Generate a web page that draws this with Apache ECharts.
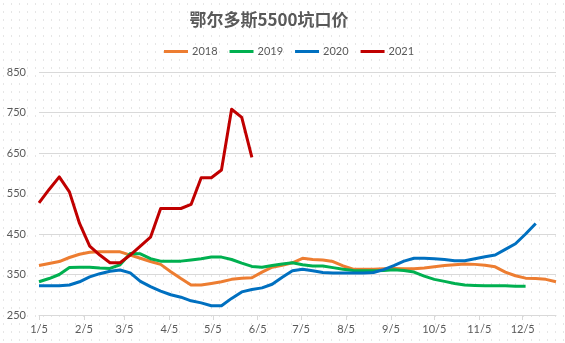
<!DOCTYPE html>
<html>
<head>
<meta charset="utf-8">
<script src="https://cdn.jsdelivr.net/npm/echarts@6/dist/echarts.min.js"></script>
<style>
  html, body { margin: 0; padding: 0; background: #ffffff; }
  #chart { width: 565px; height: 343px; }
</style>
</head>
<body>
<div id="chart"></div>
<script>
// Weekly pit-head prices, one value per week starting 5 January (day-of-year 5, step 7 days)
const prices2018 = [372, 377, 382, 392, 400, 405, 406, 406, 406, 398, 390, 382, 375, 357, 340, 324,
  324, 328, 332, 338, 341, 342, 356, 368, 373, 379, 390, 387, 386, 382, 371, 363, 363, 363, 364, 365,
  364, 364, 366, 369, 372, 374, 376, 375, 373, 369, 356, 347, 341, 340, 338, 332];
const prices2019 = [332, 340, 350, 367, 368, 368, 366, 365, 374, 402, 401, 389, 383, 383, 383, 386,
  389, 393, 393, 387, 378, 370, 368, 372, 376, 379, 374, 371, 371, 367, 363, 360, 359, 359, 360, 362,
  360, 356, 346, 338, 333, 328, 324, 323, 322, 322, 322, 321, 321];
const prices2020 = [322, 322, 322, 324, 332, 344, 352, 358, 361, 354, 333, 320, 309, 300, 294, 285,
  280, 273, 273, 291, 307, 313, 317, 326, 343, 359, 363, 359, 355, 354, 354, 354, 354, 355, 362, 372,
  383, 390, 390, 389, 387, 384, 384, 389, 394, 398, 412, 426, 450, 476];
const prices2021 = [527, 560, 591, 554, 476, 420, 398, 379, 379, 398, 420, 442, 513, 513, 513, 523,
  589, 589, 608, 758, 738, 639];

const seriesNames = ['2018', '2019', '2020', '2021'];
const seriesColors = ['#ED7D31', '#00B050', '#0070C0', '#C00000'];

// Month ticks on the day-of-year axis (the 5th of every month)
const monthTickDays = [5, 36, 64, 95, 125, 156, 186, 217, 248, 278, 309, 339];
const monthTickLabels = ['1/5', '2/5', '3/5', '4/5', '5/5', '6/5', '7/5', '8/5', '9/5', '10/5', '11/5', '12/5'];

const firstWeekDay = 5;
const weekStep = 7;
function toPoints(values) {
  return values.map((v, i) => [firstWeekDay + i * weekStep, v]);
}

// Dotted backdrop tile
function dotTile() {
  const c = document.createElement('canvas');
  c.width = 8; c.height = 8;
  const g = c.getContext('2d');
  g.fillStyle = '#ffffff';
  g.fillRect(0, 0, 8, 8);
  g.fillStyle = '#e6e6e6';
  g.fillRect(3, 3, 1, 2);
  return c;
}

const textFont = 'Lato, "Noto Sans", sans-serif';
const chart = echarts.init(document.getElementById('chart'));
const allSeries = [prices2018, prices2019, prices2020, prices2021];

chart.setOption({
  backgroundColor: { image: dotTile(), repeat: 'repeat' },
  animation: false,
  title: {
    text: '鄂尔多斯5500坑口价',
    left: 264,
    top: 6,
    textAlign: 'center',
    textStyle: {
      fontFamily: '"Noto Sans CJK SC", sans-serif',
      fontSize: 17,
      fontWeight: 'bold',
      color: '#595959'
    }
  },
  legend: {
    data: seriesNames,
    left: 159,
    top: 41,
    itemWidth: 24,
    itemHeight: 3,
    itemGap: 12,
    icon: 'rect',
    textStyle: { fontFamily: textFont, fontSize: 11, color: '#595959', padding: [0, 0, 0, -1] }
  },
  grid: { left: 39, right: 9, top: 72, bottom: 28, containLabel: false },
  xAxis: {
    type: 'value',
    min: 5,
    max: 362,
    splitLine: { show: false },
    axisLine: { show: true, lineStyle: { color: '#d9d9d9', width: 1 } },
    axisTick: { show: true, customValues: monthTickDays, length: 5, lineStyle: { color: '#d9d9d9' } },
    axisLabel: {
      customValues: monthTickDays,
      formatter: v => monthTickLabels[monthTickDays.indexOf(v)] || '',
      fontFamily: textFont,
      fontSize: 11,
      color: '#595959',
      margin: 9
    }
  },
  yAxis: {
    type: 'value',
    min: 250,
    max: 850,
    interval: 100,
    axisLine: { show: false },
    axisTick: { show: false },
    splitLine: { lineStyle: { color: '#d9d9d9', width: 1 } },
    axisLabel: { fontFamily: textFont, fontSize: 11, color: '#595959', margin: 13 }
  },
  series: allSeries.map((vals, i) => ({
    name: seriesNames[i],
    type: 'line',
    data: toPoints(vals),
    showSymbol: false,
    symbol: 'none',
    lineStyle: { color: seriesColors[i], width: 3, join: 'round' },
    itemStyle: { color: seriesColors[i] },
    z: 2 + i
  }))
});
</script>
</body>
</html>
